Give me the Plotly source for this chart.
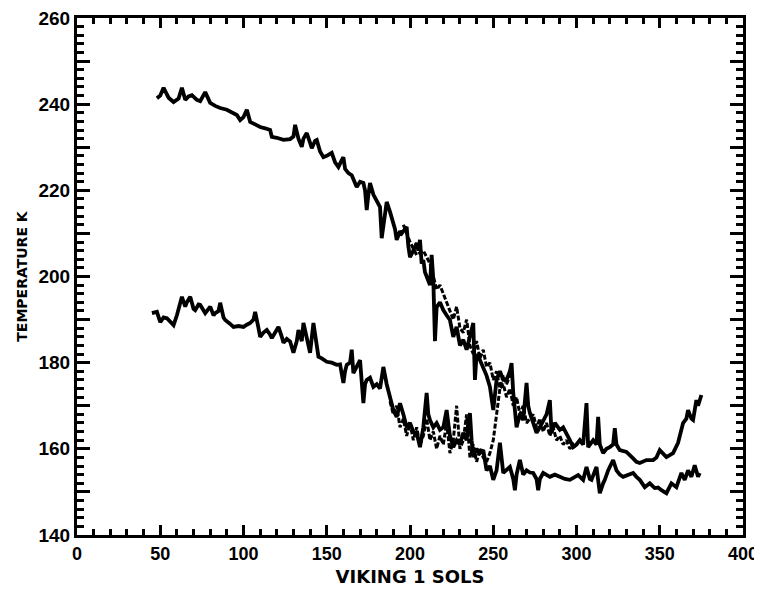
import plotly.graph_objects as go

# Upper curve (main)
upper_sol = [48,50,52,55,58,61,63,65,67,69,72,74,77,80,83,86,90,94,96,98,100,102,104,107,110,113,116,117,120,124,128,130,131,133,135,136,138,140,141,143,144,146,148,150,153,155,157,159,160,161,163,165,168,170,172,173,174,175,176,178,180,182,183,184,186,188,189,191,192,194,195,197,198,199,200,202,204,205,206,207,208,209,210,212,213,214,215,216,218,220,222,224,226,228,230,232,234,236,238,239,240,242,244,246,248,250,252,254,256,258,260,261,262,264,266,268,270,271,272,274,276,278,280,282,284,285,287,290,292,294,296,298,300,302,304,306,307,310,312,313,314,316,318,320,322,323,324,326,330,334,336,338,342,346,348,350,354,358,361,364,366,367,369,370,372,373,375]
upper_temp = [241.4,242,243.8,241.5,240.5,241.3,243.8,241,241.8,242.1,241,240.7,242.8,240.3,239.6,239.1,238.7,238,237.5,236.3,237,238.7,235.9,235.3,234.7,234.4,234,232.4,232.2,231.7,231.9,232.5,235.2,232,230.1,232,233.3,231,229.8,231.5,231.7,229,227.7,228,228.7,226.5,225.4,227,227.7,225,224,223.5,220.8,222,221.7,220,215.4,219,221.7,219,217.5,216.1,208.9,212,217.3,215,213.8,211,208.5,210.5,210,211,211.5,207,204.5,206,207.8,206,208.5,203,203.8,201,199.9,198,205,199.2,185,192.9,194,192.2,191,189.9,186,188.3,184,185.3,183,186,189.2,176,182,180.6,179,177,174.4,169,176,178,176,176,178,179.9,173,165,168,166.7,175.3,170,168.3,166,163.7,165,166.7,168,171.3,163.7,166,164.4,165,163.7,162,160.4,161,162,161,170.6,160.4,162,161,167.4,161,159,160,160.4,161,164.8,161,159.7,159.3,157.8,157,156.7,157.4,157.4,158,159.7,158.1,159,161.4,166,167,169,167,166.7,171.3,170,172.5]

# Upper curve (second, overlapping record)
upper2_sol = [196,200,204,208,212,214,216,218,220,222,224,226,228,230,232,234,236,238,240,242,244,246,248,250,252,254,256,258,260,262,264,266,268,270,272,274,276,278,280,282,284,286,288,290,292,294,296,298,300]
upper2_temp = [212,208,205,206,203,200,197,198,196,194,192,190,193,188,187,190,184,182,185,181,183,179,180,176,178,174,175,172,174,170,172,168,170,166,167,168,165,167,164,166,163,165,162,163,161,162,160,161,160]

# Lower curve (main)
lower_sol = [45,48,50,52,54,56,58,60,63,65,66,68,70,71,73,74,76,77,79,80,82,83,85,86,88,89,92,94,97,100,102,104,106,107,109,110,112,114,116,117,119,121,123,124,126,128,130,132,133,135,136,138,140,142,143,145,147,150,153,156,158,160,161,162,164,165,166,168,170,172,173,174,176,178,180,182,184,186,188,189,190,192,194,196,198,200,202,204,206,208,210,211,212,214,216,218,220,222,224,226,228,230,232,234,236,237,238,240,242,244,246,248,250,252,254,256,258,260,262,263,264,266,268,270,272,274,276,277,278,280,284,287,290,293,296,299,301,304,306,308,309,312,313,314,316,317,319,322,324,326,328,331,334,336,338,341,344,347,349,351,354,357,360,363,365,367,369,371,373,374]
lower_temp = [191.5,191.8,189.4,190.5,190.3,189.5,188.7,191,195.3,193,194,195.3,192.5,192.2,193.5,193.4,192,191.5,192.5,193,191,191.5,192,193.9,190.5,189.9,189,188.3,188.5,188.3,188.8,189.2,190,191.8,188,186,187,187.6,186.5,185.7,187,188.3,186,184.6,185.5,184.9,182.3,185,187.6,185,189.2,185.3,182.3,189.2,186,181.4,181,180.2,180,179.5,179.6,175.3,178,179.5,180,183,177.6,179,180.6,170.6,175,176,176.5,174.4,175,174,179,175,172,171.3,169,167.4,170.6,168,165,166,164,163.7,160.4,165,173,168,166.7,165,166,164.4,165,169,163,160.4,162,161,163.7,162,168.3,162,158.1,160,159,159.7,155,156,152.8,155,161.4,154.4,155,155.8,153,150.4,154,157.4,154,155,154.5,154.4,153,150.4,153,154.4,153.5,154,153.5,153,152.8,153.5,153.9,152.8,155.8,153,152.8,155.8,153,149.7,152,152.8,155,157.4,155,154,153.5,154,154.4,153.5,152.8,151.1,152,150.9,151,150.4,149.7,152,151.1,154.4,152.8,155,153.5,156.2,153.5,154.4]

# Lower curve (second, overlapping record)
lower2_sol = [188,190,192,194,196,198,200,202,204,206,208,210,212,214,216,218,220,222,224,226,228,230,232,234,236,238,240,242,244,246,248,250,252,254,256,258,260]
lower2_temp = [171,168,170,165,167,163,166,162,165,161,163,167,162,164,160,163,161,166,159,162,170,160,162,168,158,161,157,160,158,157,159,162,168,174,177,175,177]

x_ticks = [0, 50, 100, 150, 200, 250, 300, 350, 400]
y_tickvals = [140, 150, 160, 170, 180, 190, 200, 210, 220, 230, 240, 250, 260]
y_ticktext = ["140", "", "160", "", "180", "", "200", "", "220", "", "240", "", "260"]

fig = go.Figure()
line_style = dict(color="black", width=3.8)
dash_style = dict(color="black", width=3, dash="5px,2px")
fig.add_trace(go.Scatter(x=upper2_sol, y=upper2_temp, mode="lines", line=dash_style))
fig.add_trace(go.Scatter(x=lower2_sol, y=lower2_temp, mode="lines", line=dash_style))
fig.add_trace(go.Scatter(x=upper_sol, y=upper_temp, mode="lines", line=line_style))
fig.add_trace(go.Scatter(x=lower_sol, y=lower_temp, mode="lines", line=line_style))

tick_fam = "Liberation Sans, Arial, sans-serif"
title_fam = "DejaVu Sans, sans-serif"
fig.update_layout(
    width=754, height=587,
    margin=dict(l=69, r=19, t=10, b=60),
    paper_bgcolor="white", plot_bgcolor="white",
    showlegend=False,
    font=dict(family=tick_fam, color="black"),
    xaxis=dict(
        range=[0, 400], tickmode="array", tickvals=x_ticks,
        ticktext=[str(v) for v in x_ticks],
        ticks="inside", ticklen=10, tickwidth=2.5, tickcolor="black",
        minor=dict(tickmode="linear", tick0=0, dtick=10, ticks="inside",
                   ticklen=6, tickwidth=2.5, tickcolor="black"),
        showline=True, linewidth=3, linecolor="black", mirror="ticks",
        showgrid=False, zeroline=False, automargin=False,
        ticklabeloverflow="allow",
        tickfont=dict(size=18, weight="bold"),
        title=dict(text="VIKING 1 SOLS",
                   font=dict(size=18, weight="bold", family=title_fam), standoff=8),
    ),
    yaxis=dict(
        range=[140, 260], tickmode="array", tickvals=y_tickvals, ticktext=y_ticktext,
        ticks="inside", ticklen=13, tickwidth=2.5, tickcolor="black",
        minor=dict(tickmode="linear", tick0=140, dtick=2, ticks="inside",
                   ticklen=7, tickwidth=2.5, tickcolor="black"),
        showline=True, linewidth=3, linecolor="black", mirror="ticks",
        showgrid=False, zeroline=False, automargin=False,
        ticklabeloverflow="allow",
        tickfont=dict(size=19, weight="bold"),
        title=dict(text="TEMPERATURE K",
                   font=dict(size=14, weight="bold", family=title_fam), standoff=8),
    ),
)

fig.write_html("out.html")
